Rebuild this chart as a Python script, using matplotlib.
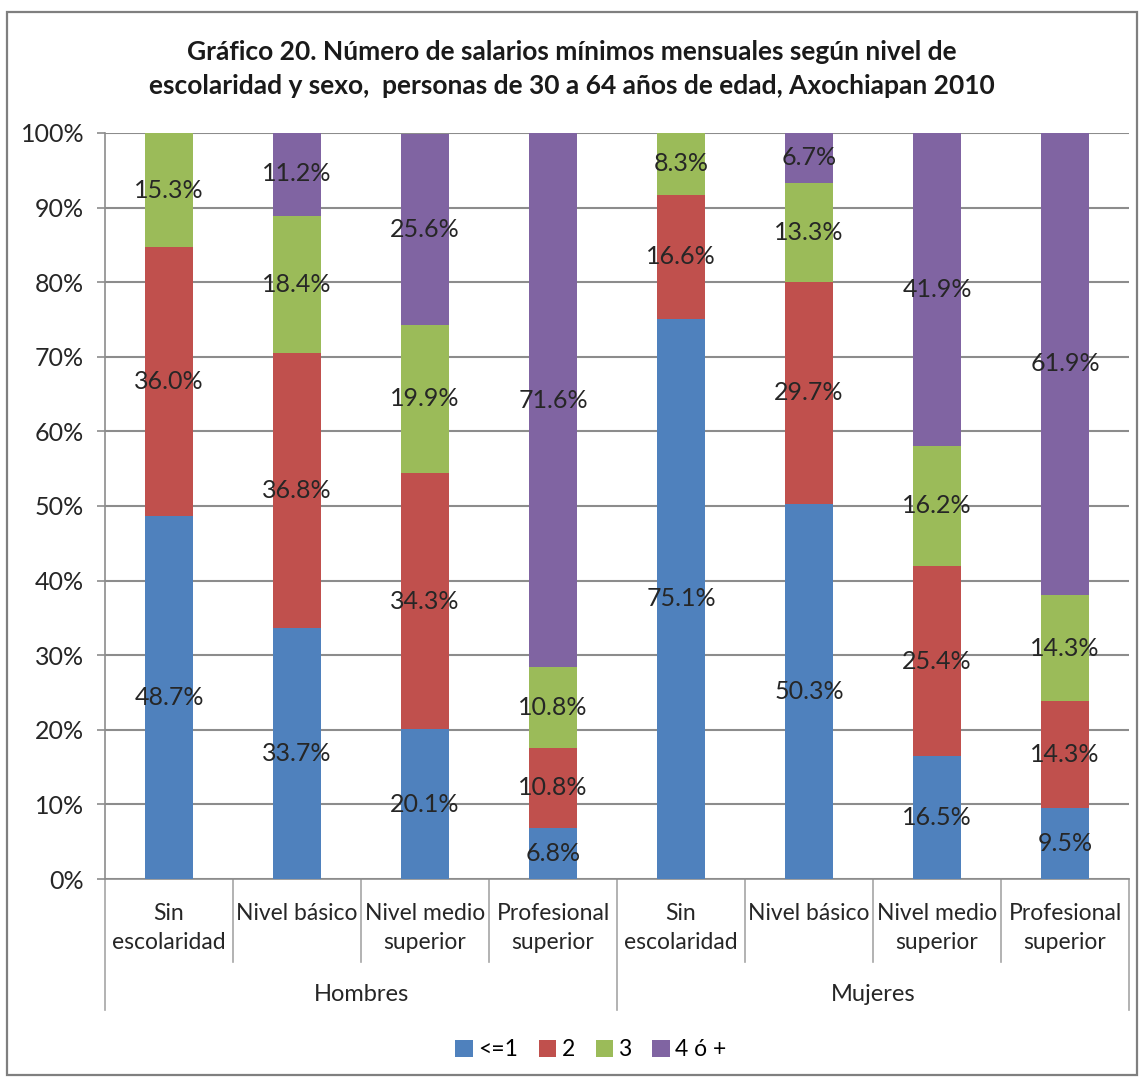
import matplotlib.pyplot as plt
import matplotlib.patches as patches
from matplotlib.transforms import blended_transform_factory
import numpy as np

plt.rcParams['font.family'] = ['Lato', 'DejaVu Sans']

# salarios minimos por nivel de escolaridad y sexo (%)
niveles = ['Sin\nescolaridad', 'Nivel básico', 'Nivel medio\nsuperior', 'Profesional\nsuperior'] * 2
grupos = ['Hombres', 'Mujeres']
series = ['<=1', '2', '3', '4 ó +']
s_1 = [48.7, 33.7, 20.1, 6.8, 75.1, 50.3, 16.5, 9.5]
s_2 = [36.0, 36.8, 34.3, 10.8, 16.6, 29.7, 25.4, 14.3]
s_3 = [15.3, 18.4, 19.9, 10.8, 8.3, 13.3, 16.2, 14.3]
s_4 = [0.0, 11.2, 25.6, 71.6, 0.0, 6.7, 41.9, 61.9]
colores = ['#4F81BD', '#C0504D', '#9BBB59', '#8064A2']

fig = plt.figure(figsize=(11.43, 10.8), dpi=100)
ax = fig.add_axes([0.0919, 0.1861, 0.8959, 0.6908])

x = np.arange(len(niveles))
bottom = np.zeros(len(niveles))
for vals, nombre, col in zip([s_1, s_2, s_3, s_4], series, colores):
    vals = np.array(vals)
    ax.bar(x, vals, width=0.38, bottom=bottom, color=col, label=nombre, zorder=3)
    for xi, b, v in zip(x, bottom, vals):
        if v > 0:
            ax.text(xi, b + v / 2, f'{v:.1f}%', ha='center', va='center',
                    fontsize=18, color='#262626', zorder=4)
    bottom += vals

ax.set_xlim(-0.5, len(niveles) - 0.5)
ax.set_ylim(0, 100)
ax.set_yticks(np.arange(0, 101, 10))
ax.set_yticklabels([f'{t}%' for t in range(0, 101, 10)], fontsize=18, color='#262626')
ax.yaxis.grid(True, color='#8c8c8c', linewidth=1.5, zorder=0)
ax.tick_params(axis='y', length=6, width=1.2, color='#8c8c8c', pad=9)
ax.set_xticks([])
for s in ['top', 'right']:
    ax.spines[s].set_visible(False)
for s in ['left', 'bottom']:
    ax.spines[s].set_color('#8c8c8c')
    ax.spines[s].set_linewidth(1.2)

# dos niveles de etiquetas en el eje x
tr = blended_transform_factory(ax.transData, ax.transAxes)
for xi, lab in zip(x, niveles):
    ax.text(xi, -0.032, lab, transform=tr, ha='center', va='top',
            fontsize=16.5, color='#262626', linespacing=1.5)
for b in np.arange(0.5, len(niveles) - 1, 1):
    largo = -0.176 if b == 3.5 else -0.111
    ax.plot([b, b], [0, largo], transform=tr, color='#a6a6a6', lw=1.2, clip_on=False)
for b in [-0.5, len(niveles) - 0.5]:
    ax.plot([b, b], [0, -0.176], transform=tr, color='#a6a6a6', lw=1.2, clip_on=False)
for i, g in enumerate(grupos):
    ax.text(i * 4 + 1.5, -0.155, g, transform=tr, ha='center', va='center',
            fontsize=17, color='#262626')

fig.text(0.5, 0.936,
         'Gráfico 20. Número de salarios mínimos mensuales según nivel de\n'
         'escolaridad y sexo,  personas de 30 a 64 años de edad, Axochiapan 2010',
         ha='center', va='center', fontsize=19, fontweight='bold',
         color='#1a1a1a', linespacing=1.5)

fig.legend(loc='center', bbox_to_anchor=(0.517, 0.028), ncol=4, frameon=False,
           fontsize=16.5, handlelength=0.75, handleheight=0.75, handletextpad=0.25,
           columnspacing=0.9)

fig.patches.append(patches.Rectangle((7 / 1143, 5 / 1080), 1130 / 1143, 1063 / 1080,
                                     transform=fig.transFigure, fill=False,
                                     edgecolor='#7f7f7f', linewidth=1.6))

fig.savefig('out.png', dpi=100)
